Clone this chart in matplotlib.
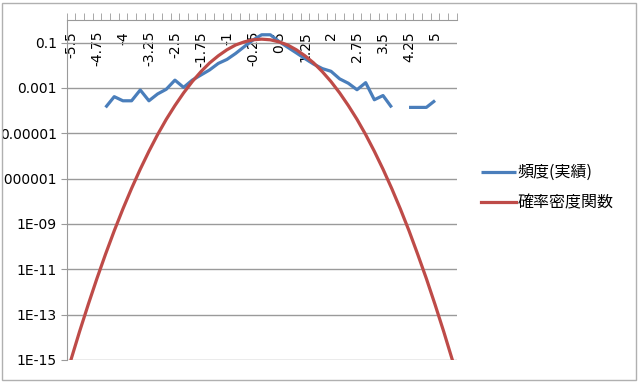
import matplotlib
matplotlib.use("Agg")
import matplotlib.pyplot as plt
import numpy as np
from matplotlib.patches import Rectangle
from matplotlib.transforms import Bbox, TransformedBbox

# categories -5.5 .. 5.5 step 0.25
categories = ['-5.5', '-5.25', '-5', '-4.75', '-4.5', '-4.25', '-4', '-3.75', '-3.5',
              '-3.25', '-3', '-2.75', '-2.5', '-2.25', '-2', '-1.75', '-1.5', '-1.25',
              '-1', '-0.75', '-0.5', '-0.25', '0', '0.25', '0.5', '0.75', '1', '1.25',
              '1.5', '1.75', '2', '2.25', '2.5', '2.75', '3', '3.25', '3.5', '3.75',
              '4', '4.25', '4.5', '4.75', '5', '5.25', '5.5']

nan = np.nan
freq = [nan, nan, nan, nan, 1.38e-4, 4.1e-4, 2.7e-4, 2.7e-4, 8.1e-4,
        2.7e-4, 5.4e-4, 8.7e-4, 2.2e-3, 1.05e-3, 2.2e-3, 3.7e-3, 6.2e-3, 1.2e-2,
        1.8e-2, 3.3e-2, 6.6e-2, 1.29e-1, 2.2e-1, 2.2e-1, 1.12e-1, 6.2e-2, 3.5e-2, 1.95e-2,
        1.12e-2, 7.1e-3, 5.4e-3, 2.5e-3, 1.6e-3, 8.3e-4, 1.7e-3, 3.0e-4, 4.6e-4, 1.38e-4,
        nan, 1.38e-4, 1.38e-4, 1.38e-4, 2.76e-4, nan, nan]

pdf = [1.0e-15, 1.8e-14, 2.8e-13, 3.9e-12, 4.7e-11, 5.0e-10, 4.6e-9, 3.7e-8, 2.6e-7,
       1.6e-6, 8.7e-6, 4.1e-5, 1.66e-4, 6.0e-4, 1.9e-3, 5.2e-3, 1.26e-2, 2.6e-2,
       4.8e-2, 7.8e-2, 1.07e-1, 1.32e-1, 1.41e-1, 1.32e-1, 1.07e-1, 7.8e-2, 4.8e-2, 2.6e-2,
       1.26e-2, 5.2e-3, 1.9e-3, 6.0e-4, 1.66e-4, 4.1e-5, 8.7e-6, 1.6e-6, 2.6e-7, 3.7e-8,
       4.6e-9, 5.0e-10, 4.6e-11, 3.9e-12, 2.8e-13, 1.8e-14, 1.0e-15]

ytick_vals = [1e-1, 1e-3, 1e-5, 1e-7, 1e-9, 1e-11, 1e-13, 1e-15]
ytick_labels = ['0.1', '0.001', '0.00001', '0.0000001', '1E-09', '1E-11', '1E-13', '1E-15']

label_step = 3
series_names = ['頻度(実績)', '確率密度関数']

plt.rcParams['font.family'] = ['DejaVu Sans']
grey = '#9a9a9a'

fig = plt.figure(figsize=(6.4, 3.82), dpi=100)
ax = fig.add_axes([0.104, 0.0576, 0.6096, 0.8904])

x = np.arange(len(categories))
ax.plot(x, freq, color='#4a7ebb', lw=2.3, label=series_names[0], solid_capstyle='butt')
ax.plot(x, pdf, color='#be4b48', lw=2.3, label=series_names[1])

ax.set_yscale('log')
ax.set_ylim(1e-15, 1)
ax.set_xlim(-0.5, len(categories) - 0.5)
ax.set_yticks(ytick_vals)
ax.set_yticklabels(ytick_labels, fontsize=10)
ax.yaxis.set_minor_locator(matplotlib.ticker.NullLocator())
ax.yaxis.grid(True, color=grey, lw=1)
ax.set_axisbelow(True)
ax.tick_params(axis='y', direction='out', length=4, color=grey, pad=3)

# category axis sits on the top edge, labels hang inside the plot
ax.xaxis.set_ticks_position('top')
ax.set_xticks(x[::label_step])
ax.set_xticklabels(categories[::label_step], rotation=90, fontsize=10)
ax.set_xticks(np.arange(-0.5, len(categories)), minor=True)
ax.tick_params(axis='x', which='major', length=0, pad=-8)
ax.tick_params(axis='x', which='minor', direction='out', length=5, color=grey)
for lab in ax.get_xticklabels():
    lab.set_va('top')

for s in ['right', 'bottom']:
    ax.spines[s].set_visible(False)
for s in ['top', 'left']:
    ax.spines[s].set_color(grey)

# long labels are cut by the chart frame, as in the original
clip = TransformedBbox(Bbox([[3 / 640, 0], [1, 1]]), fig.transFigure)
for lab in ax.get_yticklabels():
    lab.set_clip_on(True)
    lab.set_clip_box(clip)

leg = fig.legend(loc='upper left', bbox_to_anchor=(0.739, 0.591), frameon=False,
                 prop={'family': ['Noto Sans CJK JP', 'DejaVu Sans'], 'size': 11.5},
                 handlelength=2.2, handletextpad=0.1, labelspacing=0.85, borderpad=0)

fig.patches.append(Rectangle((2 / 640, 2 / 382), 634 / 640, 377 / 382, transform=fig.transFigure,
                             fill=False, edgecolor='#b0b0b0', lw=1))

fig.savefig('out.png', dpi=100)
